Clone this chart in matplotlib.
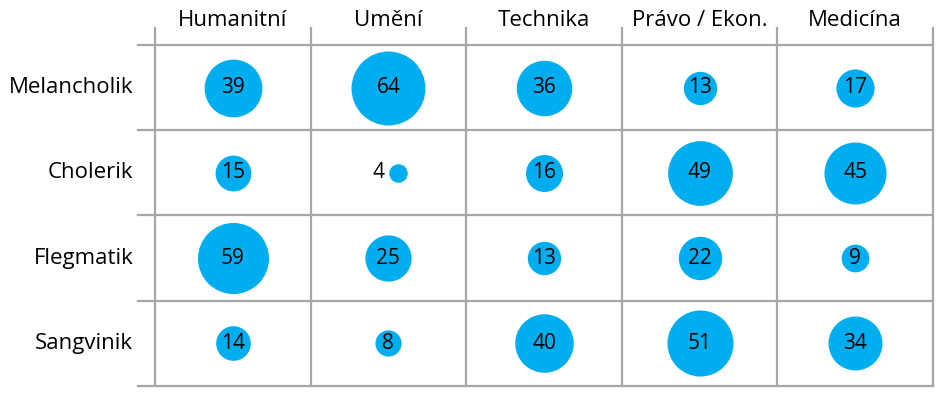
import numpy as np
import matplotlib
matplotlib.use("Agg")
import matplotlib.pyplot as plt
import matplotlib.transforms as mtransforms

# datos del gráfico
obory = ["Humanitní", "Umění", "Technika", "Právo / Ekon.", "Medicína"]
temperamenty = ["Melancholik", "Cholerik", "Flegmatik", "Sangvinik"]

melancholik = [39, 64, 36, 13, 17]
cholerik = [15, 4, 16, 49, 45]
flegmatik = [59, 25, 13, 22, 9]
sangvinik = [14, 8, 40, 51, 34]

hodnoty = np.array([melancholik, cholerik, flegmatik, sangvinik])

BARVA = "#00AEEF"
MRIZKA = "#a6a6a6"

plt.rcParams["font.family"] = ["Open Sans", "DejaVu Sans"]

fig = plt.figure(figsize=(9.44, 3.96), dpi=100)
W, H = 944, 396
ax = fig.add_axes([155 / W, (H - 386) / H, (933 - 155) / W, (386 - 45) / H])
ax.set_xlim(0, len(obory))
ax.set_ylim(len(temperamenty), 0)
ax.axis("off")

# mrizka
for i in range(len(obory) + 1):
    ax.plot([i, i], [-0.2, len(temperamenty)], color=MRIZKA, lw=1.6,
            clip_on=False, zorder=1)
for j in range(len(temperamenty) + 1):
    ax.plot([-0.11, len(obory)], [j, j], color=MRIZKA, lw=1.6,
            clip_on=False, zorder=1)

# bubliny
k = (9.25 * 0.72) ** 2
for r, radek in enumerate(hodnoty):
    for c, v in enumerate(radek):
        x, y = c + 0.5, r + 0.5
        if v < 5:
            # malá hodnota: popisek vlevo od bubliny
            tr_b = mtransforms.offset_copy(ax.transData, fig=fig, x=9.2, y=0, units="dots")
            tr_t = mtransforms.offset_copy(ax.transData, fig=fig, x=-10, y=0, units="dots")
        else:
            tr_b = ax.transData
            tr_t = ax.transData
        ax.scatter([x], [y], s=k * v, color=BARVA, linewidths=0,
                   transform=tr_b, zorder=2)
        ax.text(x, y, str(v), ha="center", va="center", fontsize=15,
                color="black", transform=tr_t, zorder=3)

# popisky sloupcu a radku
for c, nazev in enumerate(obory):
    ax.text(c + 0.5, -0.22, nazev, ha="center", va="baseline", fontsize=16,
            color="black", clip_on=False)
for r, nazev in enumerate(temperamenty):
    ax.text(-0.14, r + 0.5, nazev, ha="right", va="center", fontsize=16,
            color="black", clip_on=False)

fig.savefig("out.png", dpi=100)
